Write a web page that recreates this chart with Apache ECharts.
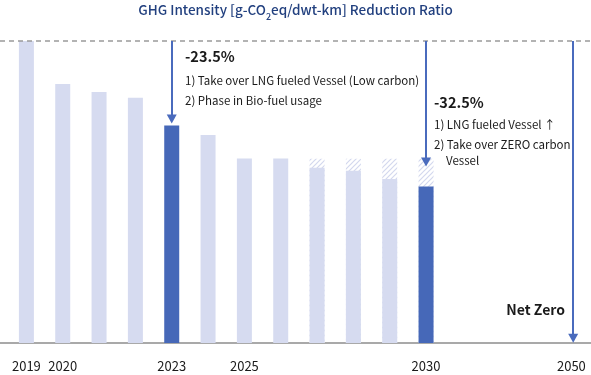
<!DOCTYPE html>
<html><head><meta charset="utf-8">
<script src="https://cdn.jsdelivr.net/npm/echarts@6/dist/echarts.min.js"></script>
<style>html,body{margin:0;padding:0;background:#fff}#c{width:591px;height:375px}</style>
</head><body><div id="c"></div>
<script>
// ---- data ----
const years = ['2019','2020','2021','2022','2023','2024','2025','2026','2027','2028','2029','2030'];
const intensity = [100, 85.8, 83.1, 81.2, 72.0, 68.9, 61.1, 61.1, 58.0, 57.0, 54.3, 51.8];
const targetLevel = [null, null, null, null, null, null, null, null, 61.0, 61.0, 61.0, 61.0];
const highlightYears = ['2023', '2030'];
const netZeroYear = '2050';
const tickLabels = ['2019', '2020', '2023', '2025', '2030', '2050'];
const baseline = 100;
const note2023 = ['-23.5%', '1) Take over LNG fueled Vessel (Low carbon)', '2) Phase in Bio-fuel usage'];
const note2030 = ['-32.5%', '1) LNG fueled Vessel ↑', '2) Take over ZERO carbon', 'Vessel'];

// ---- layout helpers ----
const FONT = '"Noto Sans CJK KR", "Noto Sans", sans-serif';
const LIGHT = '#d6dbf0', DARK = '#4668b8', ARROW = '#4a6bbd';
const netZeroIdx = years.length + 3;
function idxOf(label) { return label === netZeroYear ? netZeroIdx : years.indexOf(label); }

// hatch pattern
const pc = document.createElement('canvas');
pc.width = 5; pc.height = 5;
const g = pc.getContext('2d');
g.fillStyle = '#ffffff'; g.fillRect(0, 0, 5, 5);
g.strokeStyle = '#d3d8ee'; g.lineWidth = 1.2;
g.beginPath();
g.moveTo(-1, 6); g.lineTo(6, -1);
g.moveTo(-1, 1); g.lineTo(1, -1);
g.moveTo(4, 6); g.lineTo(6, 4);
g.stroke();

const chart = echarts.init(document.getElementById('c'), null, { renderer: 'canvas' });

const solidData = intensity.map((v, i) => ({
  value: [i, v],
  itemStyle: { color: highlightYears.includes(years[i]) ? DARK : LIGHT }
}));
const hatchData = targetLevel.map((v, i) => [i, v == null ? '-' : v]);

function arrow(idx, fromV, toV) {
  return [{ coord: [idx, fromV] }, { coord: [idx, toV] }];
}

const option = {
  animation: false,
  title: {
    text: '{a|GHG Intensity [g-CO}{s|2}{a|eq/dwt-km] Reduction Ratio}',
    left: 'center', top: -6,
    textStyle: {
      fontWeight: 'normal',
      rich: {
        a: { fontFamily: FONT, fontSize: 13.5, fontWeight: 500, color: '#22407f', lineHeight: 22 },
        s: { fontFamily: FONT, fontSize: 9, fontWeight: 500, color: '#22407f', lineHeight: 9, verticalAlign: 'bottom' }
      }
    }
  },
  grid: { left: 0, right: 0, top: 41, bottom: 32 },
  xAxis: {
    type: 'value',
    min: -0.7266, max: 15.54,
    splitLine: { show: false },
    axisTick: { show: false },
    axisLine: { show: true, onZero: false, lineStyle: { color: '#a9a9a9', width: 2 } },
    axisLabel: {
      customValues: tickLabels.map(idxOf),
      formatter: v => tickLabels.find(l => idxOf(l) === v) || '',
      fontFamily: FONT, fontSize: 13, color: '#1a1a1a', margin: 17
    }
  },
  yAxis: { type: 'value', min: 0, max: baseline, show: false },
  series: [
    {
      type: 'bar', name: 'target', barWidth: 15, barGap: '-100%',
      data: hatchData,
      itemStyle: { color: { image: pc, repeat: 'repeat' } },
      silent: true
    },
    {
      type: 'bar', name: 'intensity', barWidth: 15, barGap: '-100%',
      data: solidData,
      silent: true,
      markLine: {
        silent: true,
        symbol: ['none', 'none'],
        label: { show: false },
        lineStyle: { color: '#9a9a9a', type: [5, 4], width: 1.5 },
        data: [{ yAxis: baseline }]
      }
    },
    {
      type: 'line', name: 'arrows', data: [], silent: true,
      markLine: {
        silent: true,
        symbol: ['none', 'triangle'],
        symbolSize: [10, 9],
        label: { show: false },
        lineStyle: { color: ARROW, type: 'solid', width: 2 },
        data: [
          arrow(idxOf('2023'), baseline, 74.2),
          arrow(idxOf('2030'), baseline, 59.9),
          arrow(netZeroIdx + 0.05, baseline, 1.6)
        ]
      }
    }
  ],
  graphic: [
    { type: 'text', left: 185, top: 49, style: { text: note2023[0], font: 'bold 14.5px ' + FONT, fill: '#1a1a1a' } },
    { type: 'text', left: 185, top: 71, style: { text: note2023.slice(1).join('\n'), font: '11.5px ' + FONT, fill: '#1a1a1a', lineHeight: 20 } },
    { type: 'text', left: 434, top: 95, style: { text: note2030[0], font: 'bold 14.5px ' + FONT, fill: '#1a1a1a' } },
    { type: 'text', left: 434, top: 115, style: { text: note2030[1] + '\n' + note2030[2], font: '11.5px ' + FONT, fill: '#1a1a1a', lineHeight: 20 } },
    { type: 'text', left: 446, top: 155, style: { text: note2030[3], font: '11.5px ' + FONT, fill: '#1a1a1a' } },
    { type: 'text', right: 26, top: 303, style: { text: 'Net Zero', font: 'bold 14px ' + FONT, fill: '#1a1a1a' } }
  ]
};
chart.setOption(option);
</script>
</body></html>
